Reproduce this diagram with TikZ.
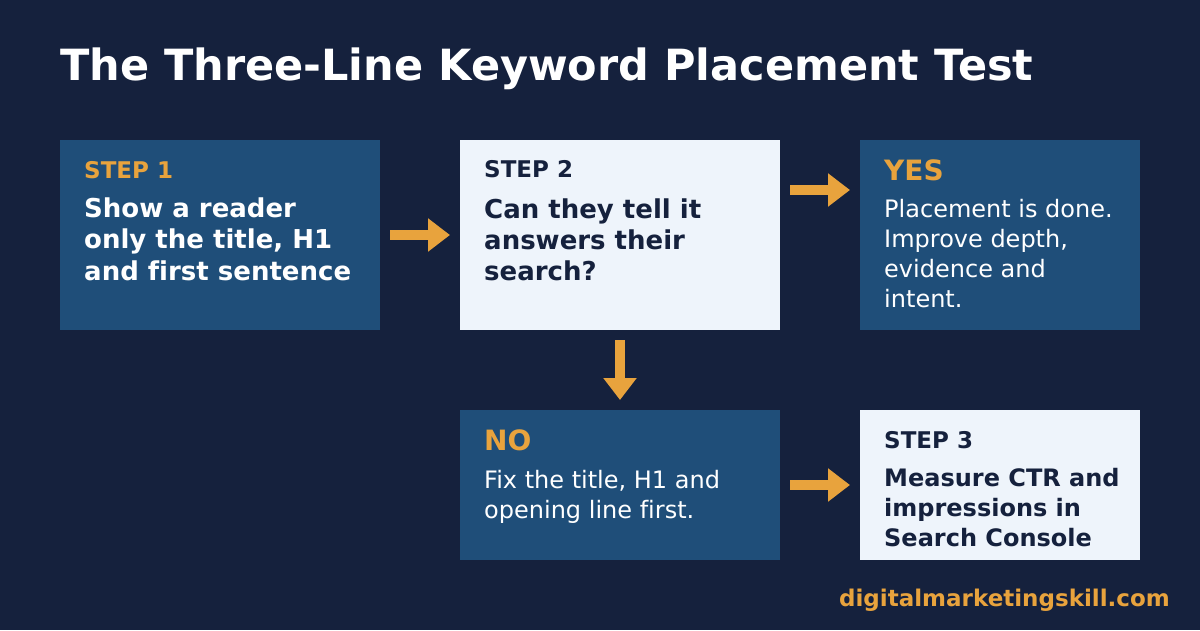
\documentclass[tikz,border=0pt]{standalone}
\usepackage{fontspec}
\setmainfont{DejaVu Sans}[Ligatures=NoCommon]
\usepackage{tikz}
\usetikzlibrary{arrows.meta, positioning}

\definecolor{pagebg}{HTML}{15213D}
\definecolor{boxblue}{HTML}{1F4E79}
\definecolor{boxpale}{HTML}{EEF4FB}
\definecolor{accent}{HTML}{E8A33D}

\begin{document}
\begin{tikzpicture}[
  x=1pt, y=-1pt,
  node distance=80pt,
  box/.style={
    rectangle, inner sep=0pt, outer sep=0pt,
    anchor=north west
  },
  darkbox/.style={box, fill=boxblue},
  palebox/.style={box, fill=boxpale},
  tag/.style={anchor=base west, inner sep=0pt, font=\bfseries\fontsize{23}{26}\selectfont},
  verdict/.style={anchor=base west, inner sep=0pt, text=accent, font=\bfseries\fontsize{28}{32}\selectfont},
  % multi-line texts are placed by the baseline of their last line
  strong/.style={anchor=base west, inner sep=0pt, align=left, font=\bfseries\fontsize{26}{31.5}\selectfont},
  plain/.style={anchor=base west, inner sep=0pt, align=left, text=white, font=\fontsize{24}{29.7}\selectfont},
  flow/.style={draw=accent, line width=10pt, -{Triangle[length=22pt, width=32pt]}, shorten <=10pt, shorten >=10pt}
]
% page
\fill[pagebg] (0,0) rectangle (1200,630);

\node[anchor=base west, inner sep=0pt, text=white, font=\bfseries\fontsize{43}{48}\selectfont] (title) at (60,80) {The Three-Line Keyword Placement Test};

% boxes
\node[darkbox, minimum width=320pt, minimum height=190pt] (s1) at (60,140) {};
\node[palebox, minimum width=320pt, minimum height=190pt, right=of s1] (s2) {};
\node[darkbox, minimum width=280pt, minimum height=190pt, right=of s2] (yes) {};
\node[darkbox, minimum width=320pt, minimum height=150pt, below=of s2] (no) {};
\node[palebox, minimum width=280pt, minimum height=150pt, right=of no] (s3) {};

% texts
\node[tag, text=accent] (s1tag) at ([shift={(24,38)}]s1.north west) {STEP 1};
\node[strong, text=white] (s1txt) at ([shift={(24,140)}]s1.north west) {Show a reader\\only the title, H1\\and first sentence};

\node[tag, text=pagebg] (s2tag) at ([shift={(24,37)}]s2.north west) {STEP 2};
\node[strong, text=pagebg, font=\bfseries\fontsize{26}{31}\selectfont] (s2txt) at ([shift={(24,140)}]s2.north west) {Can they tell it\\answers their\\search?};

\node[verdict] (yestag) at ([shift={(24,40)}]yes.north west) {YES};
\node[plain] (yestxt) at ([shift={(24,167)}]yes.north west) {Placement is done.\\Improve depth,\\evidence and\\intent.};

\node[verdict] (notag) at ([shift={(24,40)}]no.north west) {NO};
\node[plain] (notxt) at ([shift={(24,108)}]no.north west) {Fix the title, H1 and\\opening line first.};

\node[tag, text=pagebg] (s3tag) at ([shift={(24,38)}]s3.north west) {STEP 3};
\node[strong, text=pagebg, font=\bfseries\fontsize{24}{30}\selectfont] (s3txt) at ([shift={(24,136)}]s3.north west) {Measure CTR and\\impressions in\\Search Console};

% arrows
\draw[flow] (s1) -- (s2);
\draw[flow] ([yshift=45pt]s2.east) -- ([yshift=45pt]s2.east -| yes.west);
\draw[flow] (s2) -- (no);
\draw[flow] (no) -- (s3);

\node[anchor=base east, inner sep=0pt, text=accent, font=\bfseries\fontsize{23}{26}\selectfont] (site) at (1170,606) {digitalmarketingskill.com};
\end{tikzpicture}
\end{document}
